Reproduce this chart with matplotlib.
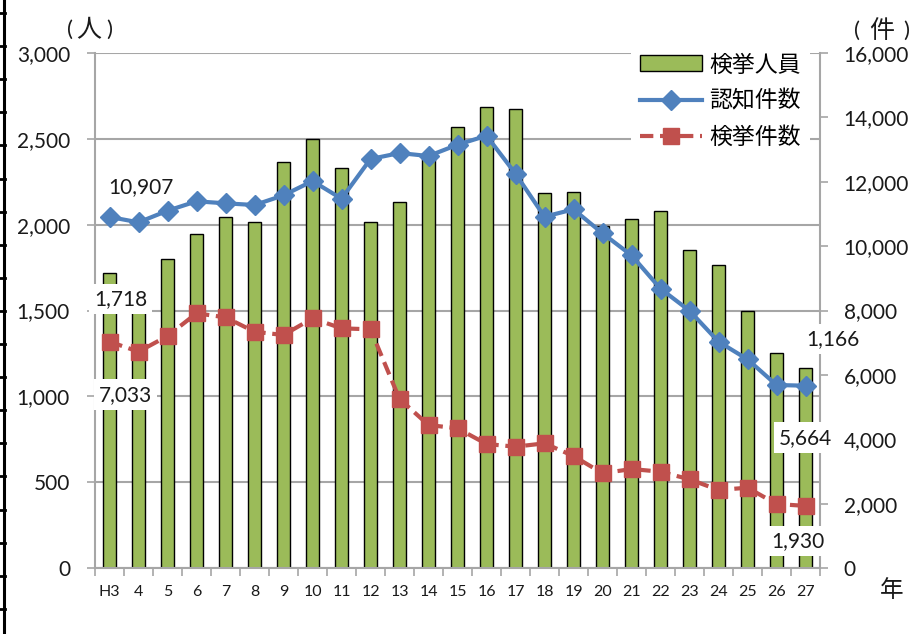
import matplotlib
matplotlib.use("Agg")
import matplotlib.pyplot as plt
from matplotlib.lines import Line2D
import numpy as np

plt.rcParams['font.family'] = ['Lato', 'Noto Sans CJK JP', 'DejaVu Sans']

years = ["H3", "4", "5", "6", "7", "8", "9", "10", "11", "12", "13", "14", "15",
         "16", "17", "18", "19", "20", "21", "22", "23", "24", "25", "26", "27"]
arrested_persons = [1718, 1560, 1801, 1943, 2046, 2017, 2365, 2500, 2331, 2017, 2133, 2400, 2568,
                    2687, 2675, 2182, 2190, 1992, 2031, 2077, 1852, 1765, 1497, 1250, 1166]
recognized_cases = [10907, 10739, 11100, 11392, 11330, 11277, 11578, 12022, 11473, 12706, 12892, 12799, 13150,
                    13430, 12250, 10914, 11143, 10398, 9714, 8677, 7993, 7031, 6483, 5685, 5664]
cleared_cases = [7033, 6720, 7207, 7912, 7788, 7341, 7238, 7757, 7446, 7415, 5250, 4442, 4340,
                 3852, 3769, 3873, 3479, 2942, 3075, 2992, 2755, 2423, 2495, 1988, 1930]
left_ticks = [0, 500, 1000, 1500, 2000, 2500, 3000]
right_ticks = [0, 2000, 4000, 6000, 8000, 10000, 12000, 14000, 16000]

GREEN = "#9BBB59"
BLUE = "#4F81BD"
RED = "#C0504D"
GRID = "#A6A6A6"
TXT = "#1a1a1a"

W, H = 922, 634
fig = plt.figure(figsize=(W/100, H/100), dpi=100)
ax = fig.add_axes([95/W, 1-568/H, (820-95)/W, (568-53)/H])
ax2 = ax.twinx()

x = np.arange(len(years))
bars = ax.bar(x, arrested_persons, width=0.42, color=GREEN, edgecolor="black", linewidth=1.0,
              label="検挙人員", zorder=2)
ax.set_xlim(-0.5, len(years) - 0.5)
ax.set_ylim(0, 3000)
ax.set_yticks(left_ticks)
ax.set_yticklabels([f"{v:,}" for v in left_ticks])
ax.yaxis.grid(True, color=GRID, linewidth=1.5)
ax.set_axisbelow(True)

ln1, = ax2.plot(x, recognized_cases, color=BLUE, linewidth=3.0, marker="D", markersize=10.5,
                label="認知件数", zorder=3)
ln2, = ax2.plot(x, cleared_cases, color=RED, linewidth=3.0, linestyle=(0, (3.2, 1.6)), marker="s",
                markersize=12, label="検挙件数", zorder=3)
ax2.set_ylim(0, 16000)
ax2.set_yticks(right_ticks)
ax2.set_yticklabels([f"{v:,}" for v in right_ticks])

for a in (ax, ax2):
    a.spines["top"].set_visible(False)
    for s in ("left", "right", "bottom"):
        a.spines[s].set_color(GRID)
        a.spines[s].set_linewidth(1.5)
ax.spines["right"].set_visible(False)
ax2.spines["left"].set_visible(False)
ax2.spines["bottom"].set_visible(False)

ax.tick_params(axis="y", length=6, width=1.2, color=GRID, pad=12, labelsize=15, labelcolor=TXT)
ax2.tick_params(axis="y", length=6, width=1.2, color=GRID, pad=11, labelsize=15, labelcolor=TXT)

ax.set_xticks(x)
ax.set_xticklabels(years, fontsize=11.5, color=TXT)
ax.set_xticks(np.arange(-0.5, len(years), 1), minor=True)
ax.tick_params(axis="x", which="major", length=0, pad=12)
ax.tick_params(axis="x", which="minor", length=6, width=1.2, color=GRID)

# data labels (drawn on the top axes so that their white boxes cover bars and lines)
box = dict(boxstyle="square,pad=0.25", facecolor="white", edgecolor="none")
def lab(txt, xi, yv, src_ax, dx, dy, use_box=True):
    ax2.annotate(txt, xy=(xi, yv), xycoords=src_ax.transData, xytext=(dx, dy),
                 textcoords="offset pixels", ha="center", va="center", fontsize=15, color=TXT,
                 bbox=box if use_box else None, zorder=10)

lab(f"{arrested_persons[0]:,}", x[0], arrested_persons[0], ax, 11, -26)
lab(f"{cleared_cases[0]:,}", x[0], cleared_cases[0], ax2, 16, -53)
lab(f"{recognized_cases[0]:,}", x[0], recognized_cases[0], ax2, 31, 30, use_box=False)
lab(f"{arrested_persons[-1]:,}", x[-1], arrested_persons[-1], ax, 27, 29)
lab(f"{recognized_cases[-1]:,}", x[-1], recognized_cases[-1], ax2, 0, -52)
lab(f"{cleared_cases[-1]:,}", x[-1], cleared_cases[-1], ax2, -8, -35)

leg = ax2.legend(handles=[bars, ln1, ln2], loc="upper left",
                 bbox_to_anchor=(631/W, 1-45/H), bbox_transform=fig.transFigure,
                 frameon=True, facecolor="white", edgecolor="none", framealpha=1, fancybox=False,
                 fontsize=16.5, handlelength=2.7, handletextpad=0.3, labelspacing=0.62,
                 borderpad=0.4, borderaxespad=0)
leg.set_zorder(20)

# axis unit labels
for xp, s, fs in ((70, "(", 16), (89, "人", 18), (109, ")", 16)):
    fig.text(xp/W, 1-30/H, s, ha="center", va="center", fontsize=fs, color=TXT)
for xp, s, fs in ((857, "(", 16), (882, "件", 18), (906, ")", 16)):
    fig.text(xp/W, 1-31/H, s, ha="center", va="center", fontsize=fs, color=TXT)
fig.text(892/W, 1-590/H, "年", ha="center", va="center", fontsize=17, color=TXT)

# page border on the left edge
fig.add_artist(Line2D([4/W, 4/W], [0, 1], color="black", linewidth=2.2, transform=fig.transFigure))
for yp in np.arange(13, H, 33.1):
    fig.add_artist(Line2D([0, 5/W], [1-yp/H, 1-yp/H], color="black", linewidth=2.0,
                          transform=fig.transFigure))

fig.savefig("out.png", dpi=100)
